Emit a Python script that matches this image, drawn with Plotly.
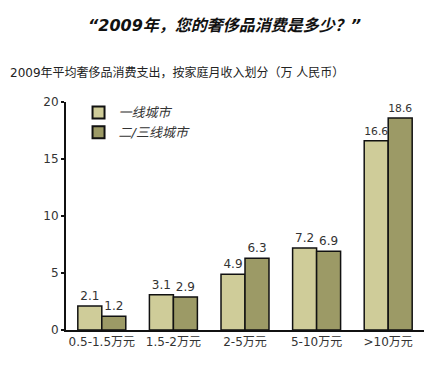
import plotly.graph_objects as go

categories = ["0.5-1.5万元", "1.5-2万元", "2-5万元", "5-10万元", ">10万元"]
tier1 = [2.1, 3.1, 4.9, 7.2, 16.6]
tier23 = [1.2, 2.9, 6.3, 6.9, 18.6]
series_names = ["一线城市", "二/三线城市"]
y_ticks = [0, 5, 10, 15, 20]

FONT = "DejaVu Sans, Noto Sans CJK SC, sans-serif"

fig = go.Figure()
fig.add_trace(go.Bar(
    x=categories, y=tier1, name=series_names[0],
    marker=dict(color="#cfcc99", line=dict(color="#111111", width=1.5)),
    text=[f"{v:.1f}" for v in tier1], textposition="outside",
    textfont=dict(size=12, color="#333333", family=FONT), cliponaxis=False,
))
fig.add_trace(go.Bar(
    x=categories, y=tier23, name=series_names[1],
    marker=dict(color="#9c9a66", line=dict(color="#111111", width=1.5)),
    text=[f"{v:.1f}" for v in tier23], textposition="outside",
    textfont=dict(size=12, color="#333333", family=FONT), cliponaxis=False,
))

fig.update_layout(
    width=440, height=359,
    margin=dict(l=58, r=24, t=94, b=37),
    paper_bgcolor="white", plot_bgcolor="white",
    font=dict(family=FONT, size=12, color="#333333"),
    barmode="group", bargap=0.33, bargroupgap=0,
    showlegend=True,
    legend=dict(x=0.035, y=1.02, xanchor="left", yanchor="top",
                font=dict(size=13, color="#333333", family=FONT, style="italic"),
                bgcolor="rgba(0,0,0,0)", traceorder="normal", itemsizing="constant"),
    annotations=[
        dict(text="<b><i>“2009年，您的奢侈品消费是多少？”</i></b>", xref="paper", yref="paper",
             x=0.5, y=1.0, xanchor="center", yanchor="middle",
             font=dict(size=16, color="#111111", family=FONT), showarrow=False,
             xshift=-21, yshift=77),
        dict(text="2009年平均奢侈品消费支出，按家庭月收入划分（万 人民币）", xref="paper", yref="paper",
             x=0, y=1.0, xanchor="left", yanchor="middle",
             font=dict(size=12, color="#222222", family=FONT), showarrow=False,
             xshift=-58, yshift=30),
    ],
)
fig.update_xaxes(showline=True, linecolor="#111111", linewidth=2, ticks="",
                 tickfont=dict(size=12, color="#333333"), showgrid=False)
fig.update_yaxes(range=[0, 20], tickvals=y_ticks, showline=True, linecolor="#111111", linewidth=2,
                 ticks="outside", ticklen=3, tickwidth=1.5, tickcolor="#111111",
                 tickfont=dict(size=12, color="#333333"), showgrid=False, zeroline=False)

fig.write_html("out.html")
